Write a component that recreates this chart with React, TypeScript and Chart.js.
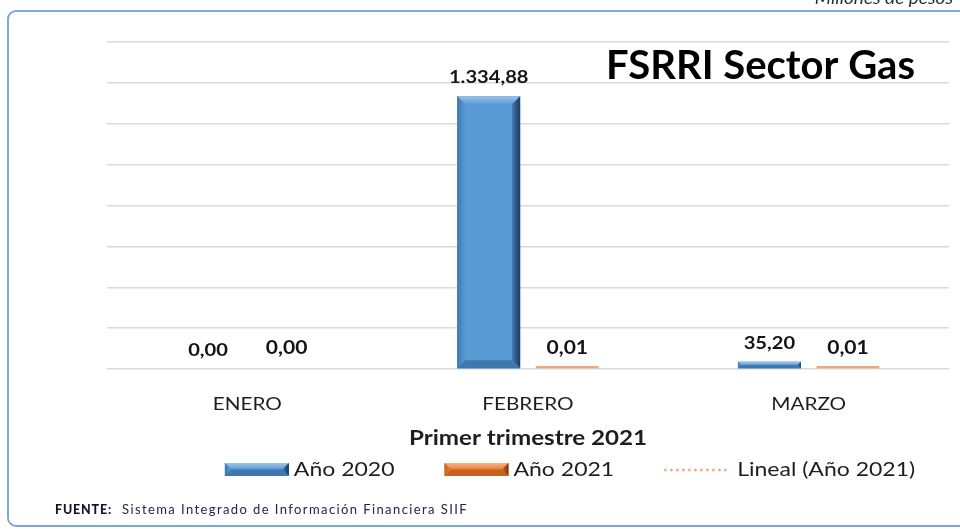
import React, { useEffect, useRef } from "react";
import { Chart, registerables } from "chart.js";

Chart.register(...registerables);

// ---------- data ----------
const CATEGORIES = ["ENERO", "FEBRERO", "MARZO"];
const ANIO_2020 = [0.0, 1334.88, 35.2];
const ANIO_2021 = [0.0, 0.01, 0.01];
const SERIES_NAMES = ["Año 2020", "Año 2021", "Lineal (Año 2021)"];
const Y_MIN = 0;
const Y_MAX = 1600;
const Y_STEP = 200;
const CHART_TITLE = "FSRRI Sector Gas";
const AXIS_TITLE = "Primer trimestre 2021";
const SOURCE_LABEL = "FUENTE:";
const SOURCE_TEXT = "Sistema Integrado de Información Financiera SIIF";
const UNIT_TEXT = "Millones de pesos";

// ---------- style ----------
const FONT = "Lato, 'Open Sans', 'DejaVu Sans', sans-serif";
const BLUE = "#5B9BD5";
const ORANGE = "#ED7D31";
const ORANGE_LIGHT = "#EDA985";
const TEXT = "#1E1E1E";

function fmt(v: number): string {
  const [i, d] = v.toFixed(2).split(".");
  const withSep = i.replace(/\B(?=(\d{3})+(?!\d))/g, ".");
  return withSep + "," + d;
}

function stretchText(
  ctx: CanvasRenderingContext2D,
  text: string,
  x: number,
  y: number,
  font: string,
  color: string,
  align: CanvasTextAlign,
  sx: number,
  baseline: CanvasTextBaseline = "middle"
) {
  ctx.save();
  ctx.font = font;
  ctx.fillStyle = color;
  ctx.textAlign = align;
  ctx.textBaseline = baseline;
  ctx.translate(x, y);
  ctx.scale(sx, 1);
  ctx.fillText(text, 0, 0);
  ctx.restore();
}

function textWidth(ctx: CanvasRenderingContext2D, text: string, font: string, sx: number) {
  ctx.save();
  ctx.font = font;
  const w = ctx.measureText(text).width * sx;
  ctx.restore();
  return w;
}

function drawBevelBar(
  ctx: CanvasRenderingContext2D,
  left: number,
  top: number,
  right: number,
  bottom: number,
  face: string,
  light: string,
  dark: string,
  mid: string
) {
  const w = right - left;
  const h = bottom - top;
  if (w <= 0 || h <= 0) return;
  const b = Math.max(0, Math.min(8, w / 2, h / 2));
  ctx.save();
  ctx.fillStyle = face;
  ctx.fillRect(left, top, w, h);
  let g = ctx.createLinearGradient(0, top, 0, top + b);
  g.addColorStop(0, light);
  g.addColorStop(1, face);
  ctx.fillStyle = g;
  ctx.beginPath();
  ctx.moveTo(left, top);
  ctx.lineTo(right, top);
  ctx.lineTo(right - b, top + b);
  ctx.lineTo(left + b, top + b);
  ctx.closePath();
  ctx.fill();
  g = ctx.createLinearGradient(right - b, 0, right, 0);
  g.addColorStop(0, mid);
  g.addColorStop(1, dark);
  ctx.fillStyle = g;
  ctx.beginPath();
  ctx.moveTo(right, top);
  ctx.lineTo(right, bottom);
  ctx.lineTo(right - b, bottom - b);
  ctx.lineTo(right - b, top + b);
  ctx.closePath();
  ctx.fill();
  g = ctx.createLinearGradient(left, 0, left + b, 0);
  g.addColorStop(0, mid);
  g.addColorStop(1, face);
  ctx.fillStyle = g;
  ctx.beginPath();
  ctx.moveTo(left, top);
  ctx.lineTo(left + b, top + b);
  ctx.lineTo(left + b, bottom - b);
  ctx.lineTo(left, bottom);
  ctx.closePath();
  ctx.fill();
  ctx.fillStyle = mid;
  ctx.beginPath();
  ctx.moveTo(left, bottom);
  ctx.lineTo(left + b, bottom - b);
  ctx.lineTo(right - b, bottom - b);
  ctx.lineTo(right, bottom);
  ctx.closePath();
  ctx.fill();
  ctx.restore();
}

const framePlugin = {
  id: "frame",
  beforeDraw(chart: any) {
    const ctx = chart.ctx as CanvasRenderingContext2D;
    ctx.save();
    ctx.fillStyle = "#ffffff";
    ctx.fillRect(0, 0, chart.width, chart.height);
    ctx.strokeStyle = "#7FA8DA";
    ctx.lineWidth = 2;
    ctx.beginPath();
    (ctx as any).roundRect(8, 11, 1000, 515, 8);
    ctx.stroke();
    ctx.restore();
    stretchText(ctx, UNIT_TEXT, 953, 3.5, `italic 17px ${FONT}`, "#2E2E2E", "right", 1.12, "alphabetic");
  },
};

const bevelPlugin = {
  id: "bevel",
  afterDatasetsDraw(chart: any) {
    const ctx = chart.ctx as CanvasRenderingContext2D;
    const meta0 = chart.getDatasetMeta(0);
    meta0.data.forEach((el: any) => {
      const p = el.getProps(["x", "y", "base", "width"], true);
      drawBevelBar(ctx, p.x - p.width / 2, Math.min(p.y, p.base), p.x + p.width / 2, Math.max(p.y, p.base), BLUE, "#9CC5EC", "#1C3A5E", "#3F77AE");
    });
  },
};

const labelsPlugin = {
  id: "valueLabels",
  afterDatasetsDraw(chart: any) {
    const ctx = chart.ctx as CanvasRenderingContext2D;
    const sizes = [16.5, 19.5];
    const stretch = [1.22, 1.08];
    chart.data.datasets.forEach((ds: any, di: number) => {
      if (di > 1) return;
      const meta = chart.getDatasetMeta(di);
      meta.data.forEach((el: any, i: number) => {
        const v = ds.data[i];
        const p = el.getProps(["x", "y", "base"], true);
        const top = Math.min(p.y, p.base);
        stretchText(ctx, fmt(v), p.x, top - 18.5, `bold ${sizes[di]}px ${FONT}`, "#141414", "center", stretch[di]);
      });
    });
  },
};

const textPlugin = {
  id: "texts",
  afterDraw(chart: any) {
    const ctx = chart.ctx as CanvasRenderingContext2D;
    const area = chart.chartArea;
    const xScale = chart.scales.x;

    // title inside plot area, fitted to width
    ctx.save();
    ctx.font = `bold 40px ${FONT}`;
    const tw = ctx.measureText(CHART_TITLE).width;
    ctx.restore();
    const tSize = Math.min(40, (40 * 309) / tw);
    stretchText(ctx, CHART_TITLE, 606, 79, `bold ${tSize}px ${FONT}`, "#000000", "left", 1, "alphabetic");

    // category labels
    CATEGORIES.forEach((c, i) => {
      stretchText(ctx, c, xScale.getPixelForValue(i), 404.5, `18px ${FONT}`, TEXT, "center", 1.15);
    });

    // axis title
    stretchText(ctx, AXIS_TITLE, (area.left + area.right) / 2, 438.5, `bold 21px ${FONT}`, TEXT, "center", 1.15);

    // legend
    const ly = 469.5;
    const lf = `20px ${FONT}`;
    const lsx = 1.15;
    const sw = 64;
    const gapSwatch = 5;
    const gapItem = 50;
    const lineW = 63;
    const gapLine = 10;
    const w0 = textWidth(ctx, SERIES_NAMES[0], lf, lsx);
    const w1 = textWidth(ctx, SERIES_NAMES[1], lf, lsx);
    const w2 = textWidth(ctx, SERIES_NAMES[2], lf, lsx);
    const total = sw + gapSwatch + w0 + gapItem + sw + gapSwatch + w1 + gapItem + lineW + gapLine + w2;
    let x = 570 - total / 2;
    drawBevelBar(ctx, x, ly - 6.5, x + sw, ly + 6.5, BLUE, "#9CC5EC", "#1C3A5E", "#3F77AE");
    x += sw + gapSwatch;
    stretchText(ctx, SERIES_NAMES[0], x, ly, lf, TEXT, "left", lsx);
    x += w0 + gapItem;
    drawBevelBar(ctx, x, ly - 6.5, x + sw, ly + 6.5, ORANGE, "#F6B48A", "#7A3A10", "#C5621F");
    x += sw + gapSwatch;
    stretchText(ctx, SERIES_NAMES[1], x, ly, lf, TEXT, "left", lsx);
    x += w1 + gapItem;
    ctx.save();
    ctx.strokeStyle = "#F4A97A";
    ctx.lineWidth = 2.5;
    ctx.setLineDash([2.5, 3.5]);
    ctx.beginPath();
    ctx.moveTo(x, ly + 0.5);
    ctx.lineTo(x + lineW, ly + 0.5);
    ctx.stroke();
    ctx.restore();
    x += lineW + gapLine;
    stretchText(ctx, SERIES_NAMES[2], x, ly, lf, TEXT, "left", lsx);

    // source footer
    ctx.save();
    ctx.textBaseline = "middle";
    ctx.textAlign = "left";
    ctx.font = `900 12.5px ${FONT}`;
    ctx.fillStyle = "#15152A";
    const fw = ctx.measureText(SOURCE_LABEL).width;
    (ctx as any).letterSpacing = `${Math.max(0, (57 - fw) / SOURCE_LABEL.length)}px`;
    ctx.fillText(SOURCE_LABEL, 55, 510);
    (ctx as any).letterSpacing = "0px";
    ctx.font = `13px ${FONT}`;
    ctx.fillStyle = "#25254A";
    const sw2 = ctx.measureText(SOURCE_TEXT).width;
    (ctx as any).letterSpacing = `${Math.max(0, (346 - sw2) / SOURCE_TEXT.length)}px`;
    ctx.fillText(SOURCE_TEXT, 122, 510);
    (ctx as any).letterSpacing = "0px";
    ctx.restore();
  },
};

export default function App() {
  const ref = useRef<HTMLCanvasElement | null>(null);

  useEffect(() => {
    if (!ref.current) return;
    const chart = new Chart(ref.current, {
      type: "bar",
      data: {
        labels: CATEGORIES,
        datasets: [
          {
            label: SERIES_NAMES[0],
            data: ANIO_2020,
            backgroundColor: BLUE,
            borderWidth: 0,
            categoryPercentage: 0.56,
            barPercentage: 0.8,
          },
          {
            label: SERIES_NAMES[1],
            data: ANIO_2021,
            backgroundColor: (c: any) => (c.raw === 0 ? "rgba(0,0,0,0)" : ORANGE_LIGHT),
            borderWidth: 0,
            minBarLength: 3,
            categoryPercentage: 0.56,
            barPercentage: 0.8,
          },
        ],
      },
      options: {
        responsive: false,
        animation: false,
        devicePixelRatio: 1,
        layout: { padding: { left: 107, top: 42, right: 11, bottom: 0 } },
        plugins: {
          legend: { display: false },
          title: { display: false },
          tooltip: { enabled: false },
        },
        scales: {
          x: {
            grid: { display: false, drawTicks: false },
            border: { display: false },
            ticks: { display: false },
            afterFit: (s: any) => {
              s.height = 160;
            },
          },
          y: {
            min: Y_MIN,
            max: Y_MAX,
            ticks: { stepSize: Y_STEP, display: false },
            grid: { color: "#D9D9D9", lineWidth: 1.5, drawTicks: false },
            border: { display: false },
            afterFit: (s: any) => {
              s.width = 0;
            },
          },
        },
      },
      plugins: [framePlugin, bevelPlugin, labelsPlugin, textPlugin],
    });
    return () => chart.destroy();
  }, []);

  return (
    <div style={{ position: "absolute", left: 0, top: 0, width: 960, height: 529, background: "#fff", overflow: "hidden" }}>
      <canvas ref={ref} width={960} height={529} style={{ width: 960, height: 529, display: "block" }} />
    </div>
  );
}
